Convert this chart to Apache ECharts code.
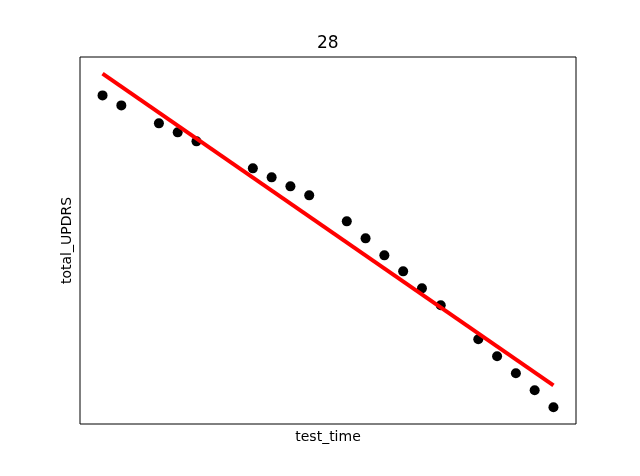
<!DOCTYPE html>
<html>
<head>
<meta charset="utf-8">
<script src="https://cdn.jsdelivr.net/npm/echarts@6/dist/echarts.min.js"></script>
<style>html,body{margin:0;padding:0;background:#fff;}#c{width:640px;height:476px;}</style>
</head>
<body>
<div id="c"></div>
<script>
const title = "28";
const xLabel = "test_time";
const yLabel = "total_UPDRS";
const testTime = [0, 1, 3, 4, 5, 8, 9, 10, 11, 13, 14, 15, 16, 17, 18, 20, 21, 22, 23, 24];
const totalUPDRS = [32.9, 31.9, 30.1, 29.2, 28.3, 25.6, 24.7, 23.8, 22.9, 20.3, 18.6, 16.9, 15.3, 13.6, 11.9, 8.5, 6.8, 5.1, 3.4, 1.7];
const fitX = [0, 24];
const fitY = [35.07, 3.9];

const xs = testTime.concat(fitX), ys = totalUPDRS.concat(fitY);
const xMin = Math.min(...xs), xMax = Math.max(...xs);
const yMin = Math.min(...ys), yMax = Math.max(...ys);
const xPad = (xMax - xMin) * 0.05, yPad = (yMax - yMin) * 0.05;

const chart = echarts.init(document.getElementById('c'), null, {renderer: 'canvas'});
const font = 'DejaVu Sans';
chart.setOption({
  animation: false,
  backgroundColor: '#fff',
  title: {
    text: title, left: 317, top: 35, padding: 0,
    textStyle: {fontFamily: font, fontSize: 17, fontWeight: 'normal', color: '#000'}
  },
  grid: {left: 80, right: 64, top: 57, bottom: 52, show: true, borderColor: '#000', borderWidth: 1, backgroundColor: 'transparent'},
  xAxis: {
    type: 'value', min: xMin - xPad, max: xMax + xPad,
    name: xLabel, nameLocation: 'middle', nameGap: 6,
    nameTextStyle: {fontFamily: font, fontSize: 14, color: '#000', verticalAlign: 'top'},
    axisLine: {show: false}, axisTick: {show: false}, axisLabel: {show: false}, splitLine: {show: false}
  },
  yAxis: {
    type: 'value', min: yMin - yPad, max: yMax + yPad,
    name: yLabel, nameLocation: 'middle', nameGap: 6,
    nameTextStyle: {fontFamily: font, fontSize: 14, color: '#000', verticalAlign: 'bottom'},
    axisLine: {show: false}, axisTick: {show: false}, axisLabel: {show: false}, splitLine: {show: false}
  },
  series: [
    {
      type: 'scatter', symbol: 'circle', symbolSize: 10,
      itemStyle: {color: '#000', opacity: 1},
      data: testTime.map((t, i) => [t, totalUPDRS[i]]),
      z: 2
    },
    {
      type: 'line', symbol: 'none',
      lineStyle: {color: '#ff0000', width: 4},
      data: fitX.map((t, i) => [t, fitY[i]]),
      z: 3
    }
  ]
});
</script>
</body>
</html>
